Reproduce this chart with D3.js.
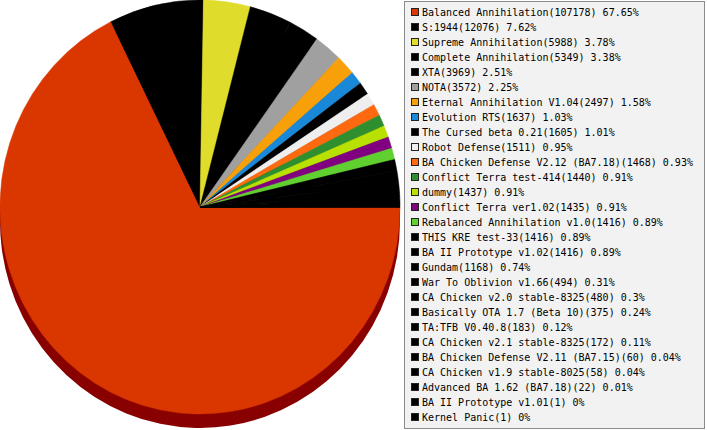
<!DOCTYPE html>
<html>
<head>
<meta charset="utf-8">
<script src="https://cdn.jsdelivr.net/npm/d3@7"></script>
<style>
  body { margin: 0; background: #fff; }
  svg { display: block; }
</style>
</head>
<body>
<div id="chart"></div>
<script>
var names = [
  'Balanced Annihilation', 'S:1944', 'Supreme Annihilation', 'Complete Annihilation',
  'XTA', 'NOTA', 'Eternal Annihilation V1.04', 'Evolution RTS', 'The Cursed beta 0.21',
  'Robot Defense', 'BA Chicken Defense V2.12 (BA7.18)', 'Conflict Terra test-414',
  'dummy', 'Conflict Terra ver1.02', 'Rebalanced Annihilation v1.0', 'THIS KRE test-33',
  'BA II Prototype v1.02', 'Gundam', 'War To Oblivion v1.66', 'CA Chicken v2.0 stable-8325',
  'Basically OTA 1.7 (Beta 10)', 'TA:TFB V0.40.8', 'CA Chicken v2.1 stable-8325',
  'BA Chicken Defense V2.11 (BA7.15)', 'CA Chicken v1.9 stable-8025',
  'Advanced BA 1.62 (BA7.18)', 'BA II Prototype v1.01', 'Kernel Panic'
];
var values = [107178, 12076, 5988, 5349, 3969, 3572, 2497, 1637, 1605, 1511, 1468, 1440,
  1437, 1435, 1416, 1416, 1416, 1168, 494, 480, 375, 183, 172, 60, 58, 22, 1, 1];
var percents = ['67.65', '7.62', '3.78', '3.38', '2.51', '2.25', '1.58', '1.03', '1.01',
  '0.95', '0.93', '0.91', '0.91', '0.91', '0.89', '0.89', '0.89', '0.74', '0.31', '0.3',
  '0.24', '0.12', '0.11', '0.04', '0.04', '0.01', '0', '0'];
var colors = ['#d93600', '#000000', '#e0dc2c', '#000000', '#000000', '#a0a0a0', '#f8a00a',
  '#1a88d8', '#000000', '#eeeeee', '#ff6a10', '#2f8f2f', '#b8e000', '#800080', '#60d030',
  '#000000', '#000000', '#000000', '#000000', '#000000', '#000000', '#000000', '#000000',
  '#000000', '#000000', '#000000', '#000000', '#000000'];

var W = 707, H = 430;
var cx = 200, cy = 207, r = 200, squash = 1.035, depth = 14;

var svg = d3.select('#chart')
  .append('svg')
  .attr('width', W)
  .attr('height', H);

var data = values.map(function(v, i) {
  return { name: names[i], value: v, pct: percents[i], color: colors[i] };
});

// slices start at 3 o'clock and run clockwise, in legend order
var pie = d3.pie()
  .value(d => d.value)
  .sort(null)
  .startAngle(Math.PI / 2)
  .endAngle(Math.PI / 2 + 2 * Math.PI);

var arcs = pie(data);
var arc = d3.arc().innerRadius(0).outerRadius(r);

// side of the disc
svg.append('g')
  .attr('transform', 'translate(' + cx + ',' + (cy + depth) + ') scale(1,' + squash + ')')
  .selectAll('path')
  .data(arcs)
  .enter()
  .append('path')
  .attr('d', arc)
  .style('fill', (d, i) => i === 0 ? '#880000' : d3.color(d.data.color).darker(1));

// top face
svg.append('g')
  .attr('transform', 'translate(' + cx + ',' + cy + ') scale(1,' + squash + ')')
  .selectAll('path')
  .data(arcs)
  .enter()
  .append('path')
  .attr('d', arc)
  .style('fill', d => d.data.color)
  .style('stroke', d => d.data.color)
  .style('stroke-width', 0.5);

// legend
var lx = 404.5, ly = 1.5, rowH = 15;
var legend = svg.append('g');

legend.append('rect')
  .attr('x', lx)
  .attr('y', ly)
  .attr('width', 300)
  .attr('height', 427)
  .style('fill', '#f2f2f2')
  .style('stroke', '#8c8c8c');

var rows = legend.selectAll('g.row')
  .data(data)
  .enter()
  .append('g')
  .attr('class', 'row')
  .attr('transform', (d, i) => 'translate(0,' + (i * rowH) + ')');

rows.append('rect')
  .attr('x', 411.5)
  .attr('y', 8.5)
  .attr('width', 7)
  .attr('height', 7)
  .style('fill', d => d.color)
  .style('stroke', '#222');

rows.append('text')
  .attr('x', 422)
  .attr('y', 16)
  .text(d => d.name + '(' + d.value + ') ' + d.pct + '%')
  .style('font-family', '"DejaVu Sans Mono", "Liberation Mono", monospace')
  .style('font-size', '10px')
  .style('fill', '#000');
</script>
</body>
</html>
